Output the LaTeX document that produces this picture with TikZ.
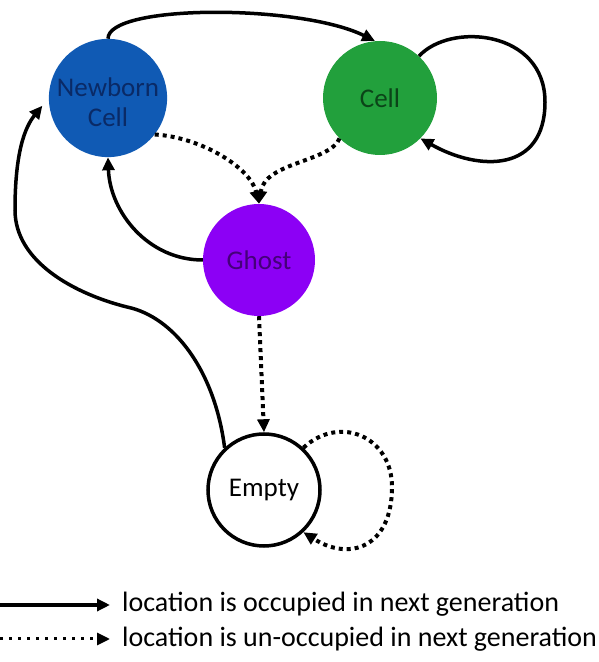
\documentclass[tikz,border=0pt]{standalone}
\usepackage{fontspec}
\setmainfont{Carlito}
\usetikzlibrary{arrows.meta}
\definecolor{nbblue}{HTML}{105AB4}
\definecolor{nbtext}{HTML}{0A2A66}
\definecolor{cellgreen}{HTML}{22A03C}
\definecolor{celltext}{HTML}{0B4418}
\definecolor{ghostpurple}{HTML}{8C00F5}
\definecolor{ghosttext}{HTML}{45007A}
\begin{document}
\begin{tikzpicture}[x=1pt,y=1pt,
  state/.style={circle, minimum size=114pt, inner sep=0pt,
    font=\fontsize{27}{30}\selectfont},
  tip/.style={-{Triangle[length=13pt,width=12pt]}},
  solidedge/.style={line width=3.5pt, tip},
  dotedge/.style={line width=4pt, dash pattern=on 4pt off 4pt, tip},
  legtext/.style={anchor=base west, inner sep=0pt, font=\fontsize{28}{32}\selectfont},
]
\useasboundingbox (0,0) rectangle (599,662);

\node[state, fill=nbblue, text=nbtext] (nb) at (108,564)
  {\raisebox{-8pt}[\height][\depth]{\begin{tabular}{@{}c@{}}Newborn\\Cell\end{tabular}}};
\node[state, fill=cellgreen, text=celltext] (cell) at (380,564) {Cell};
\node[state, fill=ghostpurple, text=ghosttext, minimum size=112pt] (ghost) at (259,402) {Ghost};
\node[state, draw=black, line width=3.5pt, fill=white, minimum size=112pt] (empty) at (264,172) {Empty};

% Newborn -> Cell
\draw[solidedge] (nb.north) .. controls (108,658) and (300,658) .. (cell.95);
% Cell self loop
\draw[solidedge] (cell.47) .. controls (450,640) and (545,632) .. (545,560)
  .. controls (545,490) and (480,490) .. (cell.-45);
% Newborn -> Ghost (dotted)
\draw[dotedge] (nb.-38) .. controls (200,525) and (250,495) .. (ghost.north);
% Cell -> Ghost (dotted)
\draw[dotedge] (cell.-135) .. controls (330,500) and (265,500) .. (ghost.north);
% Ghost -> Newborn
\draw[solidedge] (ghost.west) to[out=180,in=-88] (nb.south);
% Ghost -> Empty (dotted)
\draw[dotedge] (ghost.south) -- (empty.north);
% Empty -> Newborn
\draw[solidedge, shorten >=10pt] (empty.133) .. controls (215,290) and (175,345) .. (127,355)
  .. controls (75,368) and (15,400) .. (15,452)
  .. controls (15,510) and (25,535) .. (nb.west);
% Empty self loop (dotted)
\draw[dotedge] (empty.47) .. controls (340,248) and (392,225) .. (392,175)
  .. controls (392,115) and (350,100) .. (empty.-47);

% Legend
\coordinate (l1s) at (0,57);
\coordinate (l1e) at (110,57);
\coordinate (l2s) at (0,23);
\coordinate (l2e) at (110,23);
\draw[line width=3.5pt, tip] (l1s) -- (l1e);
\draw[line width=3pt, dash pattern=on 3pt off 6pt, tip] (l2s) -- (l2e);
\node[legtext] (t1) at (122,50) {location is occupied in next generation};
\node[legtext] (t2) at (122,16) {location is un-occupied in next generation};
\end{tikzpicture}
\end{document}
